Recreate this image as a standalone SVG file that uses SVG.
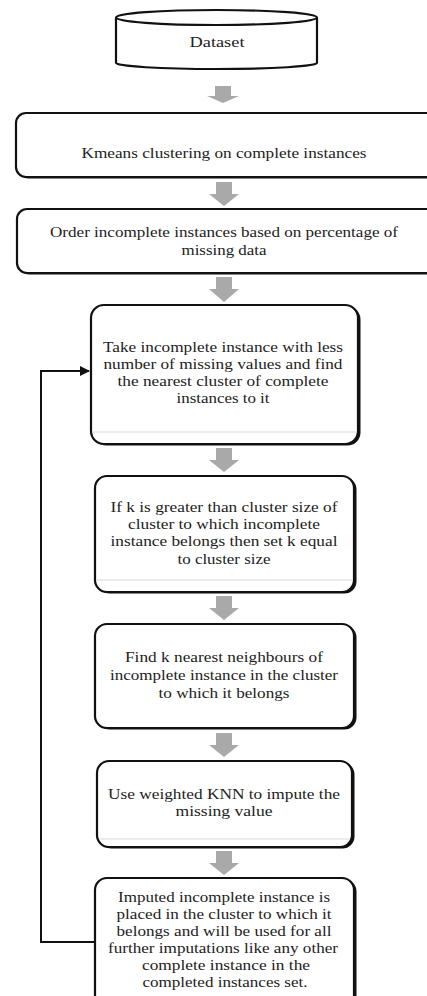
<svg xmlns="http://www.w3.org/2000/svg" width="427" height="996" viewBox="0 0 427 996">
<defs>
<style>
.box{fill:#fff;stroke:#111;stroke-width:2.2}
.shadow{fill:#111}
.t{font-family:'Liberation Serif','DejaVu Serif',serif;font-size:15.5px;fill:#222;text-anchor:middle}
.ga{fill:#a9a9a9}
.faint{stroke:#e6e6e6;stroke-width:1.5}
.conn{fill:none;stroke:#111;stroke-width:2}
</style>
<marker id="ah" viewBox="0 0 10 10" refX="9" refY="5" markerWidth="5" markerHeight="5" orient="auto" markerUnits="strokeWidth">
<path d="M0,0 L10,5 L0,10 Z" fill="#111"/>
</marker>
</defs>
<rect width="427" height="996" fill="#fff"/>

<g id="dataset">
<path class="box" d="M116,17.5 V63 A100.5,6 0 0 0 317,63 V17.5"/>
<ellipse class="box" cx="216.5" cy="17.5" rx="100.5" ry="7.5"/>
<text class="t" font-family="Liberation Serif, serif" x="217" y="47" textLength="55" lengthAdjust="spacingAndGlyphs">Dataset</text>
</g>

<g id="kmeans">
<rect class="shadow" x="18" y="114.5" width="425" height="64" rx="10"/>
<rect class="box" x="16" y="113" width="425" height="64" rx="10"/>
<text class="t" font-family="Liberation Serif, serif" x="224" y="158" textLength="285" lengthAdjust="spacingAndGlyphs">Kmeans clustering on complete instances</text>
</g>

<g id="order">
<rect class="shadow" x="19" y="210.5" width="425" height="64" rx="10"/>
<rect class="box" x="17" y="209" width="425" height="64" rx="10"/>
<text class="t" font-family="Liberation Serif, serif" x="224" y="237" textLength="348" lengthAdjust="spacingAndGlyphs">Order incomplete instances based on percentage of</text>
<text class="t" font-family="Liberation Serif, serif" x="224" y="255" textLength="85" lengthAdjust="spacingAndGlyphs">missing data</text>
</g>

<g id="take">
<rect class="shadow" x="93.5" y="306.5" width="267" height="139" rx="13"/>
<rect class="box" x="91" y="305" width="267" height="139" rx="13"/>
<line class="faint" x1="93" y1="432" x2="356" y2="432"/>
<text class="t" font-family="Liberation Serif, serif" x="223" y="352" textLength="240" lengthAdjust="spacingAndGlyphs">Take incomplete instance with less</text>
<text class="t" font-family="Liberation Serif, serif" x="223" y="369" textLength="239" lengthAdjust="spacingAndGlyphs">number of missing values and find</text>
<text class="t" font-family="Liberation Serif, serif" x="223" y="386" textLength="211" lengthAdjust="spacingAndGlyphs">the nearest cluster of complete</text>
<text class="t" font-family="Liberation Serif, serif" x="223" y="403" textLength="93" lengthAdjust="spacingAndGlyphs">instances to it</text>
</g>

<g id="ifk">
<rect class="shadow" x="97.5" y="477.5" width="259" height="116" rx="12"/>
<rect class="box" x="95" y="476" width="259" height="116" rx="12"/>
<line class="faint" x1="97" y1="580" x2="352" y2="580"/>
<text class="t" font-family="Liberation Serif, serif" x="224" y="512" textLength="227" lengthAdjust="spacingAndGlyphs">If k is greater than cluster size of</text>
<text class="t" font-family="Liberation Serif, serif" x="224" y="529" textLength="192" lengthAdjust="spacingAndGlyphs">cluster to which incomplete</text>
<text class="t" font-family="Liberation Serif, serif" x="224" y="546" textLength="227" lengthAdjust="spacingAndGlyphs">instance belongs then set k equal</text>
<text class="t" font-family="Liberation Serif, serif" x="224" y="564" textLength="93" lengthAdjust="spacingAndGlyphs">to cluster size</text>
</g>

<g id="findk">
<rect class="shadow" x="97.5" y="625.5" width="259" height="104" rx="12"/>
<rect class="box" x="95" y="624" width="259" height="104" rx="12"/>
<text class="t" font-family="Liberation Serif, serif" x="224" y="662" textLength="198" lengthAdjust="spacingAndGlyphs">Find k nearest neighbours of</text>
<text class="t" font-family="Liberation Serif, serif" x="224" y="680" textLength="228" lengthAdjust="spacingAndGlyphs">incomplete instance in the cluster</text>
<text class="t" font-family="Liberation Serif, serif" x="224" y="698" textLength="131" lengthAdjust="spacingAndGlyphs">to which it belongs</text>
</g>

<g id="weighted">
<rect class="shadow" x="99.5" y="762.5" width="255" height="86" rx="12"/>
<rect class="box" x="97" y="761" width="255" height="86" rx="12"/>
<line class="faint" x1="99" y1="839" x2="350" y2="839"/>
<text class="t" font-family="Liberation Serif, serif" x="224" y="799" textLength="232" lengthAdjust="spacingAndGlyphs">Use weighted KNN to impute the</text>
<text class="t" font-family="Liberation Serif, serif" x="224" y="816" textLength="97" lengthAdjust="spacingAndGlyphs">missing value</text>
</g>

<g id="imputed">
<rect class="shadow" x="97.5" y="879.5" width="259" height="130" rx="12"/>
<rect class="box" x="95" y="878" width="259" height="130" rx="12"/>
<text class="t" font-family="Liberation Serif, serif" x="224" y="902" textLength="212" lengthAdjust="spacingAndGlyphs">Imputed incomplete instance is</text>
<text class="t" font-family="Liberation Serif, serif" x="224" y="919" textLength="215" lengthAdjust="spacingAndGlyphs">placed in the cluster to which it</text>
<text class="t" font-family="Liberation Serif, serif" x="224" y="936" textLength="215" lengthAdjust="spacingAndGlyphs">belongs and will be used for all</text>
<text class="t" font-family="Liberation Serif, serif" x="223" y="953" textLength="230" lengthAdjust="spacingAndGlyphs">further imputations like any other</text>
<text class="t" font-family="Liberation Serif, serif" x="226" y="970" textLength="168" lengthAdjust="spacingAndGlyphs">complete instance in the</text>
<text class="t" font-family="Liberation Serif, serif" x="225" y="987" textLength="165" lengthAdjust="spacingAndGlyphs">completed instances set.</text>
</g>

<g id="connectors">
<path class="ga" d="M215,86 H231 V96 H239 L223,103 L207,96 H215 Z"/>
<path class="ga" d="M216,182 H232 V194 H239 L224,206 L209,194 H216 Z"/>
<path class="ga" d="M216,277 H232 V289 H239 L224,302 L209,289 H216 Z"/>
<path class="ga" d="M216,448 H232 V460 H239 L224,472 L209,460 H216 Z"/>
<path class="ga" d="M216,596 H232 V608 H239 L224,620 L209,608 H216 Z"/>
<path class="ga" d="M216,733 H232 V745 H239 L224,757 L209,745 H216 Z"/>
<path class="ga" d="M216,851 H232 V863 H239 L224,875 L209,863 H216 Z"/>
<path class="conn" d="M95,942 H41 V371 H89" marker-end="url(#ah)"/>
</g>
</svg>
